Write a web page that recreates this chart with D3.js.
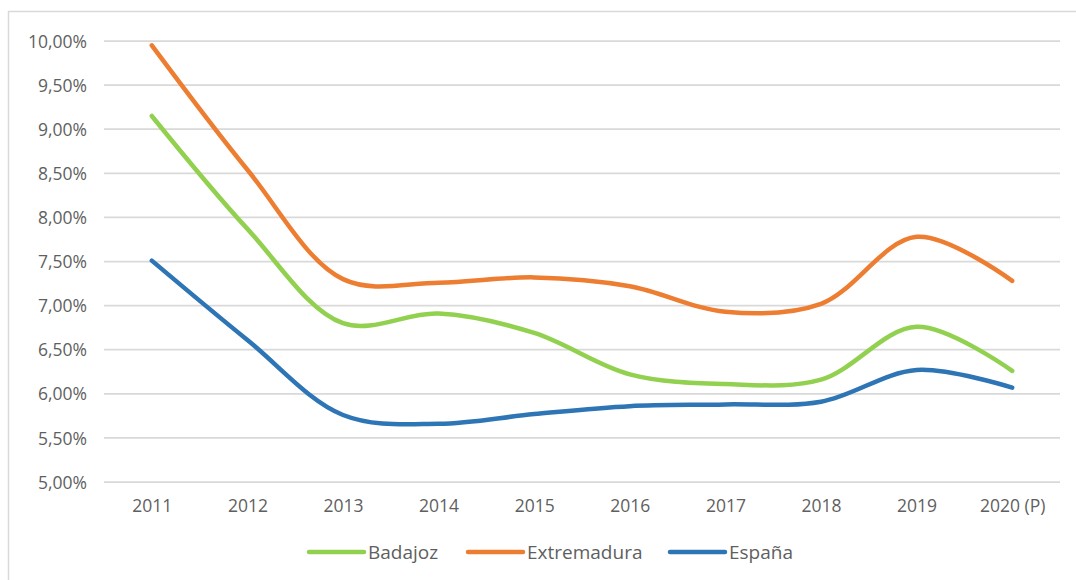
<!DOCTYPE html>
<html>
<head>
<meta charset="utf-8">
<script src="https://cdn.jsdelivr.net/npm/d3@7"></script>
<style>
  html, body { margin: 0; padding: 0; background: #ffffff; }
  svg { display: block; }
  text { font-family: "Open Sans", "DejaVu Sans", sans-serif; fill: #5f5f5f; }
</style>
</head>
<body>
<svg id="chart" width="1076" height="580"></svg>
<script>
const categories = ["2011", "2012", "2013", "2014", "2015", "2016", "2017", "2018", "2019", "2020 (P)"];
const badajoz     = [9.15, 7.87, 6.80, 6.91, 6.69, 6.22, 6.11, 6.16, 6.76, 6.26];
const extremadura = [9.95, 8.54, 7.30, 7.26, 7.32, 7.22, 6.93, 7.02, 7.78, 7.28];
const espana      = [7.51, 6.61, 5.76, 5.66, 5.77, 5.86, 5.88, 5.91, 6.27, 6.07];
const yTicks = [5.0, 5.5, 6.0, 6.5, 7.0, 7.5, 8.0, 8.5, 9.0, 9.5, 10.0];
const seriesNames = ["Badajoz", "Extremadura", "España"];
const seriesColors = ["#92D050", "#ED7D31", "#2E75B6"];
const seriesValues = [badajoz, extremadura, espana];

const svg = d3.select("#chart");

// outer frame
svg.append("rect")
  .attr("x", 8.5).attr("y", 11.5)
  .attr("width", 1100).attr("height", 600)
  .attr("fill", "none").attr("stroke", "#d9d9d9").attr("stroke-width", 1.5);

const x = d3.scalePoint().domain(categories).range([104, 1060]).padding(0.5);
const y = d3.scaleLinear().domain([5, 10]).range([482, 41]);

// gridlines
svg.append("g").selectAll("line").data(yTicks).join("line")
  .attr("x1", 104).attr("x2", 1060)
  .attr("y1", d => y(d)).attr("y2", d => y(d))
  .attr("stroke", "#d9d9d9").attr("stroke-width", 1.75);

const fmt = d => d.toFixed(2).replace(".", ",") + "%";

// y axis labels
const yAxis = d3.axisLeft(y).tickValues(yTicks).tickFormat(fmt).tickSize(0).tickPadding(0);
const gy = svg.append("g").attr("transform", "translate(87,0)").call(yAxis);
gy.select(".domain").remove();
gy.selectAll("text").attr("font-size", 17.5).attr("fill", "#5f5f5f")
  .attr("font-family", "'Open Sans', sans-serif").attr("dy", "0.35em");

// x axis labels
const xAxis = d3.axisBottom(x).tickSize(0).tickPadding(0);
const gx = svg.append("g").attr("transform", "translate(0,506)").call(xAxis);
gx.select(".domain").remove();
gx.selectAll("text").attr("font-size", 17.5).attr("fill", "#5f5f5f")
  .attr("font-family", "'Open Sans', sans-serif").attr("dy", "0.35em");

// lines
const line = d3.line()
  .x((d, i) => x(categories[i]))
  .y(d => y(d))
  .curve(d3.curveCatmullRom.alpha(0.5));

seriesValues.forEach((vals, k) => {
  svg.append("path")
    .datum(vals)
    .attr("d", line)
    .attr("fill", "none")
    .attr("stroke", seriesColors[k])
    .attr("stroke-width", 4.5)
    .attr("stroke-linecap", "round")
    .attr("stroke-linejoin", "round");
});

// legend
const legendX = [309, 468, 670];
const lg = svg.append("g");
seriesNames.forEach((name, k) => {
  lg.append("line")
    .attr("x1", legendX[k]).attr("x2", legendX[k] + 55)
    .attr("y1", 552).attr("y2", 552)
    .attr("stroke", seriesColors[k]).attr("stroke-width", 4.5)
    .attr("stroke-linecap", "round");
  lg.append("text")
    .attr("x", legendX[k] + 59).attr("y", 552)
    .attr("dy", "0.35em")
    .attr("font-size", 19)
    .text(name);
});
</script>
</body>
</html>
